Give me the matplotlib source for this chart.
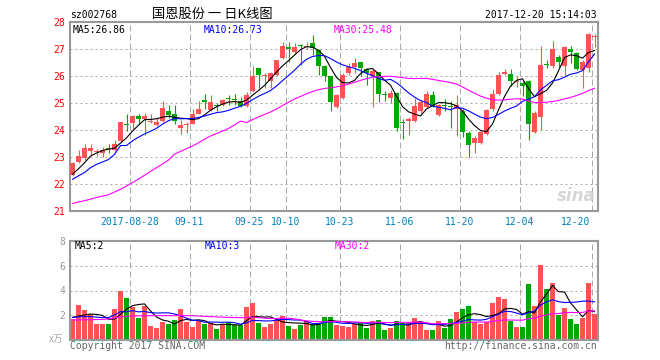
# 国恩股份 日K线图 (新浪风格)
import numpy as np
import pandas as pd
import matplotlib
matplotlib.use('Agg')
import matplotlib.pyplot as plt

MONO = 'DejaVu Sans Mono'
CJK = ['Noto Sans CJK SC', 'DejaVu Sans']
RED = '#FF5252'
GREEN = '#00A800'
GRID = '#AAAAAA'

# 日K数据 (2017-08-14 ~ 2017-12-20)
opens = [22.34, 22.81, 22.94, 23.21, 23.18, 23.13, 23.33, 23.25, 23.60, 24.20,
         24.26, 24.50, 24.40, 24.29, 24.19, 24.32, 24.71, 24.59, 24.05, 24.16,
         24.23, 24.60, 25.11, 24.74, 24.90, 24.93, 25.15, 25.12, 25.05, 24.87,
         25.44, 26.28, 25.99, 25.79, 26.03, 26.64, 27.07, 26.89, 27.12, 27.05,
         27.20, 26.95, 26.37, 25.97, 24.84, 25.17, 26.09, 26.31, 26.49, 26.24,
         26.00, 26.13, 25.32, 25.17, 25.36, 24.27, 24.34, 24.32, 24.68, 24.84,
         25.27, 24.56, 24.90, 24.86, 24.77, 24.68, 23.89, 23.52, 23.50, 23.83,
         24.75, 25.33, 26.06, 26.07, 25.78, 25.73, 25.79, 23.91, 24.48, 26.41,
         26.34, 26.68, 26.34, 26.99, 26.85, 26.19, 26.28, 27.42]
highs = [22.80, 23.25, 23.48, 23.48, 23.28, 23.37, 23.46, 23.62, 24.30, 24.58,
         24.55, 24.60, 24.62, 24.60, 24.44, 25.05, 24.93, 24.90, 24.35, 24.29,
         24.77, 25.05, 25.33, 25.30, 24.98, 25.14, 25.30, 25.32, 25.20, 25.40,
         26.34, 26.28, 26.10, 26.15, 26.58, 27.26, 27.23, 27.20, 27.17, 27.26,
         27.50, 26.98, 26.40, 26.00, 25.32, 26.09, 26.46, 26.64, 26.51, 26.28,
         26.24, 26.15, 25.44, 25.46, 25.38, 24.40, 24.48, 25.17, 25.11, 25.42,
         25.44, 24.97, 25.15, 25.05, 25.30, 24.75, 23.97, 23.76, 23.95, 24.75,
         25.50, 26.12, 26.25, 26.25, 25.97, 25.79, 25.85, 24.68, 27.11, 26.58,
         27.28, 26.77, 27.10, 27.10, 26.89, 26.56, 27.56, 27.54]
lows = [22.29, 22.78, 22.90, 23.03, 23.05, 22.99, 23.16, 23.21, 23.55, 23.97,
        24.02, 24.22, 23.82, 24.25, 24.13, 24.28, 24.44, 24.20, 23.83, 23.89,
        24.20, 24.58, 24.77, 24.68, 24.68, 24.87, 24.93, 24.90, 24.84, 24.84,
        25.40, 25.54, 25.55, 25.54, 25.97, 26.60, 26.52, 26.85, 26.40, 27.00,
        26.77, 26.03, 25.82, 24.68, 24.80, 25.14, 26.03, 26.09, 25.97, 25.66,
        24.83, 25.01, 25.05, 24.99, 23.97, 23.67, 23.80, 24.29, 24.62, 24.80,
        24.83, 24.52, 24.68, 24.05, 23.77, 23.73, 23.00, 23.15, 23.46, 23.79,
        24.71, 25.30, 26.03, 25.60, 25.58, 25.26, 23.64, 23.89, 24.01, 26.28,
        26.28, 26.31, 26.00, 26.46, 26.22, 25.54, 26.12, 27.04]
closes = [22.78, 23.05, 23.31, 23.34, 23.22, 23.25, 23.30, 23.49, 24.28, 24.18,
          24.51, 24.39, 24.50, 24.34, 24.29, 24.81, 24.56, 24.32, 24.16, 24.23,
          24.60, 24.75, 25.01, 25.01, 24.88, 25.09, 25.13, 25.10, 24.87, 25.30,
          25.97, 26.02, 26.03, 26.09, 26.56, 27.10, 26.98, 27.07, 27.10, 27.11,
          27.01, 26.37, 26.00, 25.01, 25.30, 26.03, 26.31, 26.46, 26.28, 26.09,
          26.18, 25.32, 25.30, 25.36, 24.05, 24.25, 24.36, 24.89, 25.01, 25.32,
          24.87, 24.93, 24.88, 24.83, 24.93, 23.91, 23.43, 23.68, 23.91, 24.72,
          25.33, 26.03, 26.15, 25.82, 25.80, 25.63, 24.23, 24.62, 26.40, 26.39,
          26.99, 26.49, 27.07, 26.89, 26.25, 26.52, 27.54, 27.45]
volumes = [1.75, 2.83, 2.43, 2.09, 1.31, 1.31, 1.31, 2.51, 3.98, 3.40,
           2.70, 1.79, 2.75, 1.15, 0.99, 1.47, 1.31, 1.63, 2.51, 1.47,
           1.07, 1.55, 1.31, 1.36, 0.91, 1.31, 1.44, 1.23, 1.23, 2.67,
           2.97, 1.39, 1.07, 1.31, 1.63, 1.95, 1.15, 0.91, 1.23, 1.55,
           1.28, 1.42, 1.87, 1.87, 1.23, 1.15, 1.07, 1.28, 1.44, 1.02,
           1.55, 1.63, 0.83, 0.99, 1.55, 1.39, 1.36, 1.79, 1.47, 0.83,
           0.83, 1.55, 0.99, 1.71, 2.27, 2.51, 2.75, 1.47, 1.31, 1.47,
           2.99, 3.48, 3.32, 1.55, 1.07, 1.07, 4.52, 2.75, 6.04, 4.12,
           4.60, 2.03, 2.59, 1.71, 1.31, 1.79, 4.60, 2.11]

# 窗口前的均线读数 (图中最左端)
ma5_head = [22.36, 22.56, 22.78, 23.03]
ma10_head = [22.17, 22.30, 22.42, 22.60, 22.72, 22.81, 22.90, 23.09, 23.42]
ma30_head = [21.28, 21.33, 21.38, 21.44, 21.50, 21.55, 21.60, 21.70, 21.80, 21.92,
             22.05, 22.18, 22.32, 22.46, 22.60, 22.74, 22.88, 23.10, 23.20, 23.30,
             23.40, 23.52, 23.65, 23.77, 23.86, 23.95, 24.05, 24.18, 24.32]
vma5_head = [1.84, 1.95, 2.03, 2.11]
vma10_head = [1.84, 1.88, 1.90, 1.90, 1.86, 1.82, 1.82, 2.03, 2.30]
vma30_head = [1.63, 1.64, 1.65, 1.66, 1.67, 1.68, 1.72, 1.80, 1.88, 1.92,
              1.95, 1.96, 1.97, 1.98, 1.98, 1.98, 1.98, 1.98, 1.98, 1.98,
              1.98, 1.95, 1.92, 1.90, 1.88, 1.86, 1.84, 1.83, 1.82]

# 日期刻度 (K线序号)
date_idx = [10, 20, 30, 36, 45, 55, 65, 75, 87]
date_labels = ['2017-08-28', '09-11', '09-25', '10-10', '10-23',
               '11-06', '11-20', '12-04', '12-20']


def ma(values, n, head):
    out = pd.Series(values).rolling(n).mean().values
    out[:len(head)] = head
    return out


O, H, L, C = map(np.array, (opens, highs, lows, closes))
V = np.array(volumes)
x = np.arange(len(C))
colors = np.where(C >= O, RED, GREEN)

fig = plt.figure(figsize=(6.6, 3.6), dpi=100)


def fx(px):
    return px / 660


def fy(py):
    return 1 - py / 360


ax = fig.add_axes([fx(69.5), fy(211), 528 / 660, 189.5 / 360])
axv = fig.add_axes([fx(69.5), fy(340.3), 528 / 660, 99.6 / 360])

for a in (ax, axv):
    a.set_xlim(-0.5, len(C) - 0.5)
    for s in a.spines.values():
        s.set_color('#999999')
        s.set_linewidth(1.5)
    a.tick_params(length=0, pad=3)
    a.set_xticks([])
    for i in date_idx:
        a.axvline(i - 0.5, color=GRID, lw=0.72, ls=(0, (6, 3)), zorder=0)

# K线
ax.set_ylim(21, 28)
for yv in range(22, 28):
    ax.axhline(yv, color=GRID, lw=0.72, ls=(0, (2, 3)), zorder=0)
ax.vlines(x, L, H, colors=colors, lw=0.8, zorder=2)
ax.bar(x, np.maximum(np.abs(C - O), 0.04), bottom=np.minimum(O, C),
       width=0.82, color=colors, lw=0, zorder=3)
ax.plot(x, ma(closes, 5, ma5_head), color='black', lw=0.8, zorder=4)
ax.plot(x, ma(closes, 10, ma10_head), color='#0000FF', lw=0.8, zorder=4)
ax.plot(x, ma(closes, 30, ma30_head), color='#FF00FF', lw=0.8, zorder=4)
ax.set_yticks(range(21, 29))
ax.set_yticklabels([str(v) for v in range(21, 29)], color='#FF0000',
                   fontsize=7, family=MONO)

# 成交量
axv.set_ylim(0, 8)
for yv in (2, 4, 6):
    axv.axhline(yv, color=GRID, lw=0.72, ls=(0, (2, 3)), zorder=0)
axv.bar(x, V, width=0.82, color=colors, lw=0, zorder=2)
axv.plot(x, ma(volumes, 5, vma5_head), color='black', lw=0.8, zorder=4)
axv.plot(x, ma(volumes, 10, vma10_head), color='#0000FF', lw=0.8, zorder=4)
axv.plot(x, ma(volumes, 30, vma30_head), color='#FF00FF', lw=0.8, zorder=4)
axv.set_yticks([2, 4, 6, 8])
axv.set_yticklabels(['2', '4', '6', '8'], color='#999999', fontsize=7, family=MONO)

# 日期标签
for i, lab in zip(date_idx, date_labels):
    px = 69.5 + 6 * i
    if i == date_idx[-1]:
        fig.text(fx(px - 1), fy(222), lab, ha='right', va='center',
                 fontsize=7, family=MONO, color='#0080C0')
    else:
        fig.text(fx(px), fy(222), lab, ha='center', va='center',
                 fontsize=7, family=MONO, color='#0080C0')

# 标题
fig.text(fx(70), fy(15), 'sz002768', ha='left', va='center', fontsize=7, family=MONO)
fig.text(fx(212), fy(14), '国恩股份 一 日K线图', ha='center', va='center',
         fontsize=9.5, family=CJK)
fig.text(fx(597), fy(15), '2017-12-20 15:14:03', ha='right', va='center',
         fontsize=7, family=MONO)

# 均线图例
fig.text(fx(73), fy(30), 'MA5:26.86', va='center', fontsize=7, family=MONO, color='black')
fig.text(fx(204), fy(30), 'MA10:26.73', va='center', fontsize=7, family=MONO, color='#0000FF')
fig.text(fx(334), fy(30), 'MA30:25.48', va='center', fontsize=7, family=MONO, color='#FF00FF')
fig.text(fx(75), fy(246), 'MA5:2', va='center', fontsize=7, family=MONO, color='black')
fig.text(fx(205), fy(246), 'MA10:3', va='center', fontsize=7, family=MONO, color='#0000FF')
fig.text(fx(335), fy(246), 'MA30:2', va='center', fontsize=7, family=MONO, color='#FF00FF')

# 底部文字
fig.text(fx(49), fy(339), 'x万', va='center', fontsize=7, family=CJK,
         color='#AAAAAA', style='italic')
fig.text(fx(70), fy(346), 'Copyright 2017 SINA.COM', va='center',
         fontsize=7, family=MONO, color='#666666')
fig.text(fx(597), fy(346), 'http://finance.sina.com.cn', ha='right', va='center',
         fontsize=7, family=MONO, color='#666666')
fig.text(fx(596), fy(196), 'sina', ha='right', va='center', fontsize=12,
         style='italic', weight='bold', color='#CCCCCC', alpha=0.8)

fig.savefig('out.png', dpi=100)
